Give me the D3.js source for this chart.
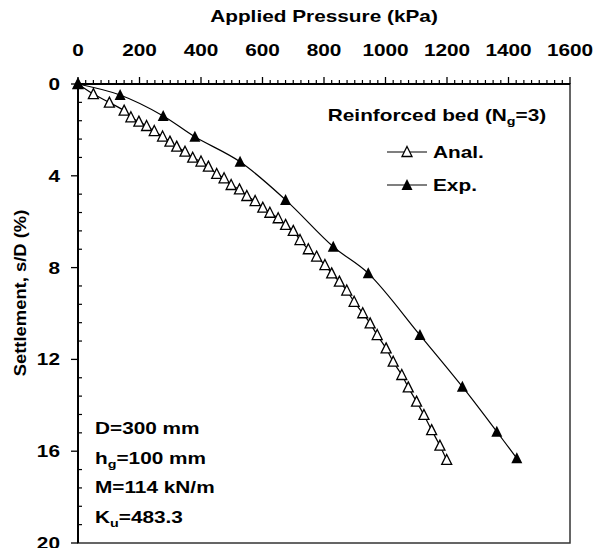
<!DOCTYPE html>
<html><head><meta charset="utf-8">
<script src="https://cdn.jsdelivr.net/npm/d3@7"></script>
<style>
html,body{margin:0;padding:0;background:#fff;}
text{font-family:"Liberation Sans",Arial,sans-serif;font-weight:bold;fill:#000;}
</style></head>
<body><svg id="c" width="606" height="548"></svg>
<script>
// Data
const expPressure = [0, 137, 277, 380, 527, 675, 830, 944, 1112, 1250, 1362, 1427];
const expSettlement = [0, 0.48, 1.39, 2.3, 3.39, 5.05, 7.09, 8.25, 10.94, 13.19, 15.15, 16.31];
const analPressure = [0, 50, 102, 150, 172, 198, 223, 248, 275, 299, 321, 348, 373, 400, 424, 451, 475, 498, 525, 549, 576, 601, 624, 651, 675, 700, 722, 749, 776, 803, 825, 850, 874, 898, 926, 950, 973, 1002, 1025, 1053, 1074, 1101, 1125, 1150, 1177, 1199];
const analSettlement = [0, 0.44, 0.81, 1.16, 1.45, 1.64, 1.83, 2.05, 2.29, 2.51, 2.73, 2.95, 3.21, 3.38, 3.6, 3.92, 4.11, 4.4, 4.59, 4.88, 5.1, 5.39, 5.61, 5.85, 6.14, 6.4, 6.8, 7.2, 7.52, 7.89, 8.25, 8.61, 9.0, 9.49, 9.99, 10.43, 10.94, 11.52, 12.1, 12.68, 13.22, 13.84, 14.42, 15.08, 15.76, 16.38];
const xTicks = [0, 200, 400, 600, 800, 1000, 1200, 1400, 1600];
const yTicks = [0, 4, 8, 12, 16, 20];
const legendTitle = "Reinforced bed (N";
const seriesNames = ["Anal.", "Exp."];

const svg = d3.select("#c");
const L = 78, T = 84, W = 492, H = 459;
const SX = 1.3;
const x = d3.scaleLinear().domain([0, 1600]).range([L, L + W]);
const y = d3.scaleLinear().domain([0, 20]).range([T, T + H]);

function addText(px, py, anchor, sx, rot) {
  const g = svg.append("g").attr("transform", `translate(${px},${py})${rot ? " rotate(-90)" : ""} scale(${sx},1)`);
  return g.append("text").attr("text-anchor", anchor || "start").style("font-size", "16px");
}

// frame
svg.append("rect").attr("x", L).attr("y", T).attr("width", W).attr("height", H)
  .attr("fill", "none").attr("stroke", "#333").attr("stroke-width", 1.5);

// minor ticks x (outside, up)
const xMinor = d3.range(0, 1601, 25).filter(v => v % 200 !== 0);
svg.append("g").selectAll("line").data(xMinor).join("line")
  .attr("x1", d => x(d)).attr("x2", d => x(d)).attr("y1", T).attr("y2", T - 4)
  .attr("stroke", "#000").attr("stroke-width", 1.2);
// major x ticks
svg.append("g").selectAll("line").data(xTicks).join("line")
  .attr("x1", d => x(d)).attr("x2", d => x(d)).attr("y1", T - 7).attr("y2", T)
  .attr("stroke", "#000").attr("stroke-width", 1.3);
xTicks.forEach(d => addText(x(d), 56, "middle", SX).text(d));

// y minor ticks inward
const yMinor = d3.range(0, 20.01, 0.8).filter(v => Math.abs(v / 4 - Math.round(v / 4)) > 1e-6);
svg.append("g").selectAll("line").data(yMinor).join("line")
  .attr("x1", L).attr("x2", L + 4).attr("y1", d => y(d)).attr("y2", d => y(d))
  .attr("stroke", "#000").attr("stroke-width", 1.2);
svg.append("g").selectAll("line").data(yTicks).join("line")
  .attr("x1", L - 7).attr("x2", L).attr("y1", d => y(d)).attr("y2", d => y(d))
  .attr("stroke", "#000").attr("stroke-width", 1.3);
yTicks.forEach(d => addText(60, y(d) + 6, "end", SX).text(d));

// axis lines
svg.append("line").attr("x1", L).attr("x2", L + W).attr("y1", T).attr("y2", T)
  .attr("stroke", "#000").attr("stroke-width", 2);
svg.append("line").attr("x1", L).attr("x2", L).attr("y1", T).attr("y2", T + H)
  .attr("stroke", "#000").attr("stroke-width", 2);

// titles
addText(L + W / 2, 22, "middle", SX).text("Applied Pressure (kPa)");
addText(26, 293, "middle", 1.15, true).text("Settlement, s/D (%)");

// series
const line = d3.line().x(d => x(d[0])).y(d => y(d[1])).curve(d3.curveCatmullRom.alpha(0.5));
const expData = expPressure.map((p, i) => [p, expSettlement[i]]);
const analData = analPressure.map((p, i) => [p, analSettlement[i]]);
function tri(w, h) { return `M0,${-h/2 - 1}L${w/2},${h/2}L${-w/2},${h/2}Z`; }

svg.append("path").datum(analData).attr("d", line).attr("fill", "none").attr("stroke", "#000").attr("stroke-width", 1.2);
svg.append("g").selectAll("path").data(analData).join("path")
  .attr("transform", d => `translate(${x(d[0])},${y(d[1])})`)
  .attr("d", tri(10, 9)).attr("fill", "#fff").attr("stroke", "#000").attr("stroke-width", 1.3);

svg.append("path").datum(expData).attr("d", line).attr("fill", "none").attr("stroke", "#000").attr("stroke-width", 1.2);
svg.append("g").selectAll("path").data(expData).join("path")
  .attr("transform", d => `translate(${x(d[0])},${y(d[1])})`)
  .attr("d", tri(11, 10)).attr("fill", "#000");

// legend
const lt = addText(437, 121, "middle", SX);
lt.append("tspan").text(legendTitle);
lt.append("tspan").attr("dy", 4).style("font-size", "11px").text("g");
lt.append("tspan").attr("dy", -4).text("=3)");
seriesNames.forEach((n, i) => {
  const ly = 152 + i * 33;
  svg.append("line").attr("x1", 387).attr("x2", 427).attr("y1", ly).attr("y2", ly).attr("stroke", "#000").attr("stroke-width", 1.2);
  svg.append("path").attr("transform", `translate(407,${ly})`).attr("d", tri(i ? 11 : 10, i ? 10 : 9))
    .attr("fill", i ? "#000" : "#fff").attr("stroke", i ? "none" : "#000").attr("stroke-width", 1.3);
  addText(433, ly + 6, "start", SX).text(n);
});

// annotations
const notes = [["D=300 mm"], ["h", "g", "=100 mm"], ["M=114 kN/m"], ["K", "u", "=483.3"]];
notes.forEach((n, i) => {
  const t = addText(95, 434 + i * 29.7, "start", SX);
  if (n.length === 1) t.text(n[0]);
  else {
    t.append("tspan").text(n[0]);
    t.append("tspan").attr("dy", 4).style("font-size", "11px").text(n[1]);
    t.append("tspan").attr("dy", -4).text(n[2]);
  }
});
</script></body></html>
